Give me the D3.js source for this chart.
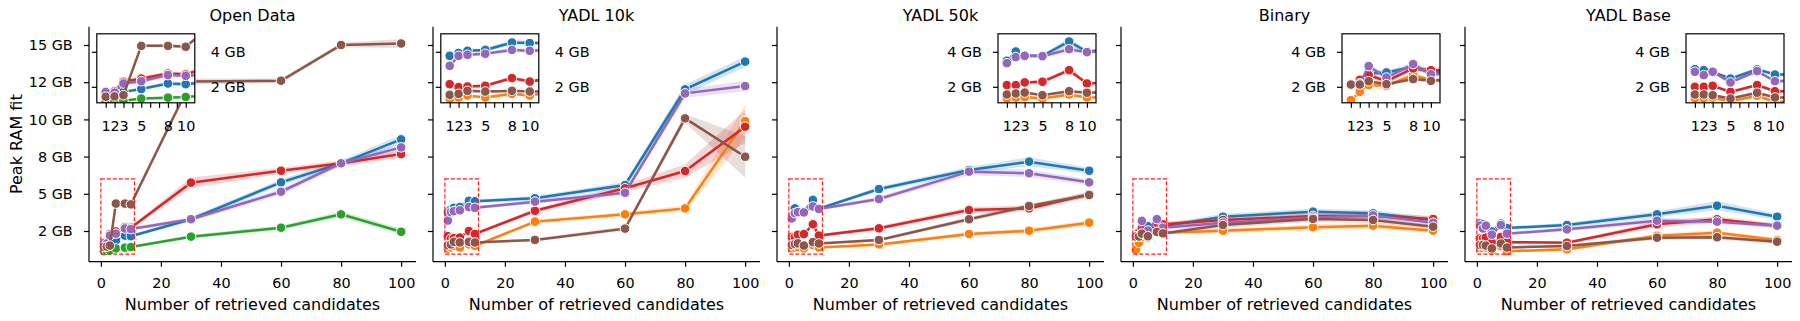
<!DOCTYPE html>
<html>
<head>
  <meta charset="utf-8">
  <title>Peak RAM fit</title>
  <script src="https://d3js.org/d3.v7.min.js"></script>
  <style>
    body { margin: 0; background: #fff; }
    text { font-family: "DejaVu Sans", sans-serif; fill: #000; }
  </style>
</head>
<body>
  <div id="chart"></div>

  <script>
    // Data (GB). One row per panel, one value per x.
    var panels = ["Open Data", "YADL 10k", "YADL 50k", "Binary", "YADL Base"];
    var xs = [1, 2, 3, 5, 8, 10, 30, 60, 80, 100];
    var seriesNames = ["blue", "orange", "green", "red", "purple", "brown"];
    var seriesColors = ["#1f77b4", "#ff7f0e", "#2ca02c", "#d62728", "#9467bd", "#8c564b"];

    var blueVals = [
      [1.62, 1.62, 1.71, 1.87, 2.19, 2.15, 3.29, 5.77, 7.05, 8.66],
      [3.77, 3.93, 4.06, 4.11, 4.53, 4.50, 4.70, 5.59, 12.02, 13.88],
      [3.49, 4.02, 3.77, 3.77, 4.59, 4.00, 5.32, 6.60, 7.16, 6.55],
      [2.10, 2.30, 2.76, 2.82, 3.14, 2.82, 3.46, 3.80, 3.69, 3.24],
      [3.01, 2.95, 2.85, 2.47, 3.00, 2.70, 2.90, 3.62, 4.20, 3.46]
    ];
    var orangeVals = [
      null,
      [1.31, 1.39, 1.50, 1.39, 1.60, 1.50, 3.13, 3.62, 4.02, 9.89],
      [1.33, 1.38, 1.42, 1.33, 1.56, 1.39, 1.60, 2.30, 2.52, 3.06],
      [1.24, 1.71, 2.10, 2.06, 2.67, 2.38, 2.52, 2.75, 2.86, 2.52],
      [1.35, 1.35, 1.38, 1.18, 1.49, 1.14, 1.27, 2.18, 2.39, 1.90]
    ];
    var greenVals = [
      [1.15, 1.17, 1.20, 1.33, 1.38, 1.42, 2.12, 2.72, 3.62, 2.45],
      null, null, null, null
    ];
    var redVals = [
      [1.72, 1.75, 2.29, 2.47, 2.76, 2.72, 5.75, 6.55, 7.05, 7.67],
      [2.15, 1.98, 2.02, 2.06, 2.50, 2.30, 3.86, 5.37, 6.53, 9.51],
      [2.10, 2.10, 2.25, 2.29, 2.95, 2.19, 2.68, 3.91, 4.02, 4.97],
      [2.13, 2.40, 2.67, 2.32, 3.05, 2.95, 3.24, 3.51, 3.51, 3.31],
      [2.00, 2.00, 2.06, 1.71, 2.10, 1.75, 1.71, 2.95, 3.29, 2.86]
    ];
    var purpleVals = [
      [1.70, 1.67, 2.19, 2.32, 2.67, 2.63, 3.29, 5.14, 7.05, 8.12],
      [3.20, 3.77, 3.83, 3.89, 4.11, 4.06, 4.47, 5.07, 11.75, 12.24],
      [3.35, 3.70, 3.77, 3.75, 4.15, 3.98, 4.65, 6.49, 6.38, 5.77],
      [2.15, 2.20, 3.18, 2.53, 3.30, 2.72, 3.06, 3.40, 3.55, 3.06],
      [2.86, 2.67, 2.86, 2.25, 2.90, 2.32, 2.61, 3.19, 3.13, 2.86]
    ];
    var brownVals = [
      [1.43, 1.45, 1.52, 4.34, 4.34, 4.29, 12.55, 12.60, 15.00, 15.10],
      [1.54, 1.60, 1.77, 1.73, 1.77, 1.73, 1.90, 2.66, 10.07, 7.49],
      [1.56, 1.62, 1.67, 1.52, 1.75, 1.66, 1.90, 3.29, 4.18, 4.92],
      [2.13, 2.13, 2.32, 2.15, 2.44, 2.34, 2.90, 3.31, 3.24, 2.79],
      [1.56, 1.56, 1.52, 1.33, 1.66, 1.39, 1.49, 2.05, 2.08, 1.78]
    ];

    // half-width of the confidence band (GB)
    var blueCi = [
      [0.08, 0.08, 0.10, 0.10, 0.12, 0.12, 0.15, 0.20, 0.20, 0.30],
      [0.10, 0.10, 0.10, 0.10, 0.15, 0.12, 0.15, 0.20, 0.35, 0.35],
      [0.10, 0.10, 0.10, 0.10, 0.20, 0.10, 0.15, 0.20, 0.30, 0.20],
      [0.15, 0.15, 0.15, 0.15, 0.15, 0.15, 0.20, 0.20, 0.20, 0.20],
      [0.10, 0.10, 0.10, 0.10, 0.10, 0.10, 0.15, 0.20, 0.30, 0.20]
    ];
    var orangeCi = [
      null,
      [0.08, 0.08, 0.08, 0.08, 0.10, 0.08, 0.15, 0.15, 0.20, 1.10],
      [0.08, 0.08, 0.08, 0.08, 0.10, 0.08, 0.10, 0.15, 0.15, 0.20],
      [0.10, 0.10, 0.10, 0.10, 0.15, 0.10, 0.15, 0.20, 0.20, 0.15],
      [0.08, 0.08, 0.08, 0.08, 0.10, 0.08, 0.10, 0.15, 0.15, 0.15]
    ];
    var greenCi = [
      [0.08, 0.08, 0.08, 0.08, 0.08, 0.08, 0.12, 0.15, 0.20, 0.20],
      null, null, null, null
    ];
    var redCi = [
      [0.10, 0.10, 0.12, 0.12, 0.12, 0.12, 0.35, 0.20, 0.20, 0.25],
      [0.10, 0.08, 0.08, 0.08, 0.12, 0.10, 0.15, 0.25, 0.45, 1.10],
      [0.08, 0.08, 0.10, 0.10, 0.15, 0.10, 0.15, 0.20, 0.20, 0.20],
      [0.10, 0.15, 0.15, 0.15, 0.15, 0.15, 0.20, 0.20, 0.20, 0.20],
      [0.08, 0.08, 0.10, 0.10, 0.10, 0.10, 0.10, 0.20, 0.20, 0.15]
    ];
    var purpleCi = [
      [0.10, 0.10, 0.12, 0.12, 0.12, 0.12, 0.15, 0.20, 0.20, 0.25],
      [0.10, 0.10, 0.10, 0.10, 0.12, 0.12, 0.15, 0.20, 0.30, 0.35],
      [0.10, 0.10, 0.10, 0.10, 0.20, 0.10, 0.15, 0.25, 0.25, 0.20],
      [0.15, 0.15, 0.15, 0.15, 0.15, 0.15, 0.20, 0.20, 0.20, 0.20],
      [0.10, 0.10, 0.10, 0.10, 0.10, 0.10, 0.15, 0.20, 0.20, 0.15]
    ];
    var brownCi = [
      [0.08, 0.08, 0.08, 0.10, 0.10, 0.10, 0.20, 0.15, 0.15, 0.30],
      [0.08, 0.08, 0.08, 0.08, 0.08, 0.08, 0.10, 0.15, 0.30, 1.40],
      [0.08, 0.08, 0.08, 0.08, 0.10, 0.08, 0.10, 0.15, 0.15, 0.15],
      [0.10, 0.10, 0.10, 0.10, 0.10, 0.10, 0.20, 0.20, 0.20, 0.15],
      [0.08, 0.08, 0.08, 0.08, 0.10, 0.08, 0.10, 0.15, 0.15, 0.15]
    ];

    var allVals = [blueVals, orangeVals, greenVals, redVals, purpleVals, brownVals];
    var allCi = [blueCi, orangeCi, greenCi, redCi, purpleCi, brownCi];

    // axis ticks
    var xTicks = [0, 20, 40, 60, 80, 100];
    var yTicks = [2.5, 5, 7.5, 10, 12.5, 15];
    var yTickLabels = ["2 GB", "5 GB", "8 GB", "10 GB", "12 GB", "15 GB"];
    var insetXTicks = [1, 2, 3, 4, 5, 6, 7, 8, 9, 10];
    var insetXLabels = [1, 2, 3, 5, 8, 10];
    var insetYTicks = [2, 4];
    var insetYTickLabels = ["2 GB", "4 GB"];
    var zoomBoxX = [0, 11.2];
    var zoomBoxY = [0.95, 6.0];

    // layout
    var svgW = 1800, svgH = 321;
    var panelLeft = [89, 433, 777, 1121, 1465];
    var pw = 327, plotTop = 26.7, plotBottom = 261.7;
    var insetOff = [7.8, 7.8, 221, 221, 221];
    var insetLabelsRight = [true, true, false, false, false];
    var iw = 98, itop = 33.8, ih = 69;

    var svg = d3.select("#chart")
      .append("svg")
      .attr("width", svgW)
      .attr("height", svgH);

    svg.append("text")
      .attr("transform", "translate(21.5," + ((plotTop + plotBottom) / 2) + ") rotate(-90)")
      .attr("text-anchor", "middle")
      .style("font-size", "16px")
      .text("Peak RAM fit");

    function rows(p, s) {
      var v = allVals[s][p], c = allCi[s][p];
      if (!v) return null;
      return xs.map(function(x, i) { return { x: x, v: v[i], c: c[i] }; });
    }

    function drawSeries(g, x, y, p) {
      var area = d3.area()
        .x(function(d) { return x(d.x); })
        .y0(function(d) { return y(d.v - d.c); })
        .y1(function(d) { return y(d.v + d.c); });
      var line = d3.line()
        .x(function(d) { return x(d.x); })
        .y(function(d) { return y(d.v); });

      seriesNames.forEach(function(name, s) {
        var data = rows(p, s);
        if (!data) return;
        g.append("path")
          .attr("d", area(data))
          .attr("fill", seriesColors[s])
          .attr("fill-opacity", 0.2);
      });
      seriesNames.forEach(function(name, s) {
        var data = rows(p, s);
        if (!data) return;
        g.append("path")
          .attr("d", line(data))
          .attr("fill", "none")
          .attr("stroke", seriesColors[s])
          .attr("stroke-width", 2.5);
        g.selectAll(".m" + s)
          .data(data)
          .enter().append("circle")
          .attr("class", "m" + s)
          .attr("cx", function(d) { return x(d.x); })
          .attr("cy", function(d) { return y(d.v); })
          .attr("r", 4.8)
          .attr("fill", seriesColors[s])
          .attr("stroke", "#fff")
          .attr("stroke-width", 1);
      });
    }

    function styleAxis(a) {
      a.selectAll("path.domain").attr("stroke", "#000").attr("stroke-width", 1.2);
      a.selectAll(".tick line").attr("stroke", "#000").attr("stroke-width", 1.2);
      a.selectAll("text").style("font-size", "14.4px").style("font-family", "DejaVu Sans, sans-serif").attr("fill", "#000");
    }

    panels.forEach(function(title, p) {
      var g = svg.append("g").attr("transform", "translate(" + panelLeft[p] + ",0)");
      var x = d3.scaleLinear().domain([-3.95, 104.95]).range([0, pw]);
      var y = d3.scaleLinear().domain([0.437, 16.23]).range([plotBottom, plotTop]);

      drawSeries(g, x, y, p);

      // zoom box
      g.append("rect")
        .attr("x", x(zoomBoxX[0]))
        .attr("y", y(zoomBoxY[1]))
        .attr("width", x(zoomBoxX[1]) - x(zoomBoxX[0]))
        .attr("height", y(zoomBoxY[0]) - y(zoomBoxY[1]))
        .attr("fill", "none")
        .attr("stroke", "#ff2020")
        .attr("stroke-width", 1.2)
        .attr("stroke-dasharray", "4,2");

      var xa = g.append("g")
        .attr("transform", "translate(0," + plotBottom + ")")
        .call(d3.axisBottom(x).tickValues(xTicks).tickSizeInner(5).tickSizeOuter(0).tickPadding(11.5));
      styleAxis(xa);
      xa.select("path.domain").attr("d", "M0,0H" + pw);

      var ya = g.append("g")
        .call(d3.axisLeft(y).tickValues(yTicks).tickSizeInner(5).tickSizeOuter(0).tickPadding(11.3)
          .tickFormat(function(d, i) { return p === 0 ? yTickLabels[i] : ""; }));
      styleAxis(ya);
      ya.select("path.domain").attr("d", "M0," + plotBottom + "V" + plotTop);

      g.append("text")
        .attr("x", pw / 2)
        .attr("y", 20.7)
        .attr("text-anchor", "middle")
        .style("font-size", "16px")
        .text(title);

      g.append("text")
        .attr("x", pw / 2)
        .attr("y", 309.5)
        .attr("text-anchor", "middle")
        .style("font-size", "16px")
        .text("Number of retrieved candidates");

      // inset
      var ig = g.append("g").attr("transform", "translate(" + insetOff[p] + "," + itop + ")");
      var ix = d3.scaleLinear().domain([0, 11.02]).range([0, iw]);
      var iy = d3.scaleLinear().domain([1.086, 5.03]).range([ih, 0]);
      ig.append("rect").attr("width", iw).attr("height", ih).attr("fill", "#fff");
      var clipId = "clip" + p;
      ig.append("clipPath").attr("id", clipId)
        .append("rect").attr("width", iw).attr("height", ih);
      var inner = ig.append("g").attr("clip-path", "url(#" + clipId + ")");
      drawSeries(inner, ix, iy, p);
      ig.append("rect").attr("width", iw).attr("height", ih)
        .attr("fill", "none").attr("stroke", "#000").attr("stroke-width", 1.2);

      var ixa = ig.append("g")
        .attr("transform", "translate(0," + ih + ")")
        .call(d3.axisBottom(ix).tickValues(insetXTicks).tickSizeInner(5).tickSizeOuter(0).tickPadding(13)
          .tickFormat(function(d) { return insetXLabels.indexOf(d) >= 0 ? d : ""; }));
      styleAxis(ixa);
      ixa.select("path.domain").remove();

      var iya = ig.append("g")
        .call(d3.axisLeft(iy).tickValues(insetYTicks).tickSizeInner(5).tickSizeOuter(0).tickPadding(11)
          .tickFormat(function(d, i) { return insetLabelsRight[p] ? "" : insetYTickLabels[i]; }));
      styleAxis(iya);
      iya.select("path.domain").remove();

      if (insetLabelsRight[p]) {
        var iyr = ig.append("g")
          .attr("transform", "translate(" + iw + ",0)")
          .call(d3.axisRight(iy).tickValues(insetYTicks).tickSize(0).tickPadding(16)
            .tickFormat(function(d, i) { return insetYTickLabels[i]; }));
        styleAxis(iyr);
        iyr.select("path.domain").remove();
      }
    });
  </script>
</body>
</html>
